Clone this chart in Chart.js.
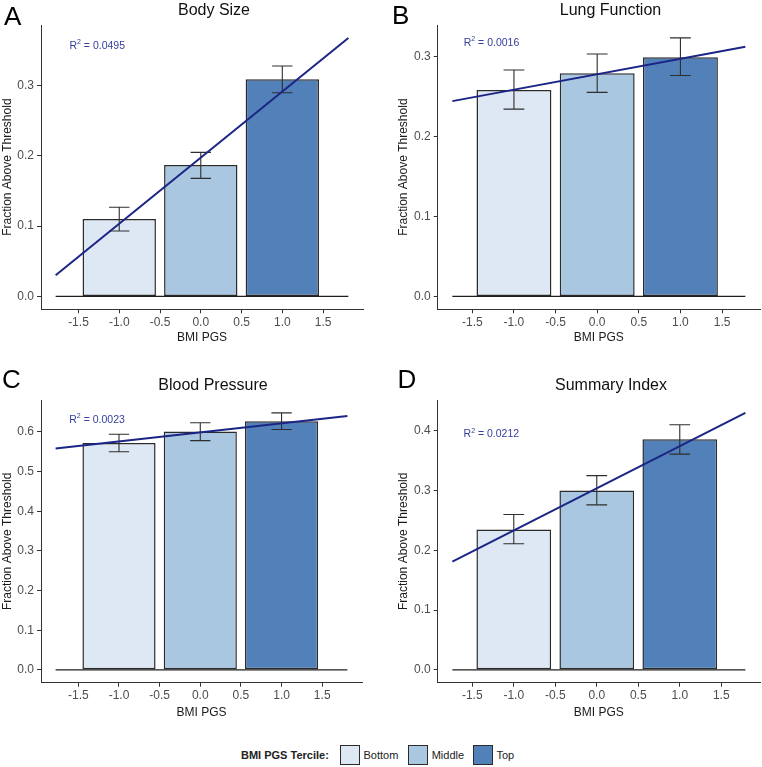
<!DOCTYPE html>
<html lang="en">
<head>
<meta charset="UTF-8">
<title>Fraction above threshold by BMI PGS tercile</title>
<script src="https://cdn.jsdelivr.net/npm/chart.js"></script>
<style>
    body { margin: 0; background: #fff; font-family: "Liberation Sans", Arial, sans-serif; }
    #fig { position: relative; width: 762px; height: 767px; overflow: hidden; }
    .panel { position: absolute; }
    .letter { position: absolute; font-size: 26px; line-height: 26px; color: #000; }
    .ptitle { position: absolute; font-size: 16px; line-height: 16px; color: #111; transform: translateX(-50%); white-space: nowrap; }
    .leg { position: absolute; font-size: 11px; line-height: 11px; color: #222; white-space: nowrap; }
    .swatch { position: absolute; width: 18px; height: 18px; border: 1px solid #2b2b2b; }
</style>
</head>
<body>
<div id="fig"></div>

<script>
    // shared x positions / labels
    const barX = [-1, 0, 1];
    const terciles = ['Bottom', 'Middle', 'Top'];
    const xTicks = [-1.5, -1.0, -0.5, 0.0, 0.5, 1.0, 1.5];

    // A - Body Size
    const bodyFrac = [0.110, 0.187, 0.309];
    const bodyLo = [0.093, 0.168, 0.290];
    const bodyHi = [0.127, 0.205, 0.328];
    const bodyFitX = [-1.78, 1.81];
    const bodyFitY = [0.030, 0.368];
    const bodyTicks = [0.0, 0.1, 0.2, 0.3];

    // B - Lung Function
    const lungFrac = [0.258, 0.279, 0.299];
    const lungLo = [0.234, 0.255, 0.276];
    const lungHi = [0.283, 0.303, 0.323];
    const lungFitX = [-1.74, 1.78];
    const lungFitY = [0.244, 0.312];
    const lungTicks = [0.0, 0.1, 0.2, 0.3];

    // C - Blood Pressure
    const bpFrac = [0.572, 0.601, 0.627];
    const bpLo = [0.550, 0.578, 0.606];
    const bpHi = [0.594, 0.623, 0.648];
    const bpFitX = [-1.78, 1.81];
    const bpFitY = [0.558, 0.640];
    const bpTicks = [0.0, 0.1, 0.2, 0.3, 0.4, 0.5, 0.6];

    // D - Summary Index
    const sumFrac = [0.235, 0.300, 0.386];
    const sumLo = [0.211, 0.276, 0.361];
    const sumHi = [0.260, 0.325, 0.410];
    const sumFitX = [-1.74, 1.79];
    const sumFitY = [0.181, 0.430];
    const sumTicks = [0.0, 0.1, 0.2, 0.3, 0.4];

    const r2Values = ['0.0495', '0.0016', '0.0023', '0.0212'];

    const fills = ['#dee7f4', '#a9c7e1', '#5281ba'];
    const fitColor = '#1b2585';
    const labelColor = '#36409c';
    const FONT = '"Liberation Sans", Arial, sans-serif';

    const panels = [
        { letter: 'A', title: 'Body Size', frac: bodyFrac, lo: bodyLo, hi: bodyHi, fitX: bodyFitX, fitY: bodyFitY, yTicks: bodyTicks, r2: r2Values[0],
          left: 0, top: 0, padL: 0, padR: 18, plotBottom: 309.3, labelY: 0.358, letterX: 4, letterY: 3, titleX: 214, titleY: 1.5 },
        { letter: 'B', title: 'Lung Function', frac: lungFrac, lo: lungLo, hi: lungHi, fitX: lungFitX, fitY: lungFitY, yTicks: lungTicks, r2: r2Values[1],
          left: 381, top: 0, padL: 15.7, padR: 2, plotBottom: 309.3, labelY: 0.318, letterX: 392, letterY: 2, titleX: 610.5, titleY: 1.5 },
        { letter: 'C', title: 'Blood Pressure', frac: bpFrac, lo: bpLo, hi: bpHi, fitX: bpFitX, fitY: bpFitY, yTicks: bpTicks, r2: r2Values[2],
          left: 0, top: 375, padL: 0, padR: 19, plotBottom: 307.7, labelY: 0.633, letterX: 2, letterY: 366.3, titleX: 213, titleY: 376.5 },
        { letter: 'D', title: 'Summary Index', frac: sumFrac, lo: sumLo, hi: sumHi, fitX: sumFitX, fitY: sumFitY, yTicks: sumTicks, r2: r2Values[3],
          left: 381, top: 375, padL: 15.7, padR: 2, plotBottom: 307.7, labelY: 0.396, letterX: 397.4, letterY: 366.3, titleX: 611, titleY: 376.5 }
    ];

    const W = 381, H = 350;

    // error bars, drawn right after the bars so the fit lines sit on top
    const errorBars = {
        id: 'errorBars',
        afterDatasetDraw(chart, args, opts) {
            if (args.index !== 0) return;
            const xs = chart.scales.x, ys = chart.scales.y, c = chart.ctx;
            const half = Math.abs(xs.getPixelForValue(opts.cap) - xs.getPixelForValue(0));
            c.save();
            c.strokeStyle = '#2e2e2e';
            c.lineWidth = 1.1;
            opts.x.forEach((xv, i) => {
                const px = xs.getPixelForValue(xv);
                const y1 = ys.getPixelForValue(opts.lo[i]);
                const y2 = ys.getPixelForValue(opts.hi[i]);
                c.beginPath();
                c.moveTo(px, y1); c.lineTo(px, y2);
                c.moveTo(px - half, y1); c.lineTo(px + half, y1);
                c.moveTo(px - half, y2); c.lineTo(px + half, y2);
                c.stroke();
            });
            c.restore();
        }
    };

    // "R² = ..." annotation at data coordinates
    const r2Label = {
        id: 'r2Label',
        afterDatasetsDraw(chart, args, opts) {
            const c = chart.ctx;
            const cx = chart.scales.x.getPixelForValue(opts.x);
            const cy = chart.scales.y.getPixelForValue(opts.y);
            const main = '10.5px ' + FONT, sup = '7px ' + FONT;
            const rest = ' = ' + opts.text;
            c.save();
            c.fillStyle = labelColor;
            c.textBaseline = 'alphabetic';
            c.font = main; const wR = c.measureText('R').width; const wRest = c.measureText(rest).width;
            c.font = sup; const w2 = c.measureText('2').width;
            let x = cx - (wR + w2 + wRest) / 2;
            const base = cy + 4;
            c.font = main; c.fillText('R', x, base); x += wR;
            c.font = sup; c.fillText('2', x, base - 4.5); x += w2;
            c.font = main; c.fillText(rest, x, base);
            c.restore();
        }
    };

    const fig = document.getElementById('fig');

    panels.forEach(p => {
        const cv = document.createElement('canvas');
        cv.width = W; cv.height = H;
        cv.className = 'panel';
        cv.style.left = p.left + 'px';
        cv.style.top = p.top + 'px';
        cv.style.width = W + 'px';
        cv.style.height = H + 'px';
        fig.appendChild(cv);

        const letter = document.createElement('div');
        letter.className = 'letter';
        letter.textContent = p.letter;
        letter.style.left = p.letterX + 'px';
        letter.style.top = p.letterY + 'px';
        fig.appendChild(letter);

        const title = document.createElement('div');
        title.className = 'ptitle';
        title.textContent = p.title;
        title.style.left = p.titleX + 'px';
        title.style.top = p.titleY + 'px';
        fig.appendChild(title);

        // ggplot-style 5% expansion around the data
        const xw = p.fitX[1] - p.fitX[0];
        const xMin = p.fitX[0] - 0.05 * xw, xMax = p.fitX[1] + 0.05 * xw;
        const yTop = Math.max(...p.hi, ...p.fitY);
        const yMin = -0.05 * yTop, yMax = 1.05 * yTop;

        new Chart(cv, {
            type: 'bar',
            data: {
                datasets: [
                    {
                        type: 'bar',
                        xAxisID: 'xb',
                        data: barX.map((x, i) => ({ x: x, y: p.frac[i] })),
                        backgroundColor: fills,
                        borderColor: '#2b2b2b',
                        borderWidth: 1.5,
                        borderSkipped: false,
                        grouped: false,
                        categoryPercentage: 0.9,
                        barPercentage: 1,
                        order: 3
                    },
                    {
                        type: 'line',
                        xAxisID: 'x',
                        data: p.fitX.map(x => ({ x: x, y: 0 })),
                        borderColor: '#1e1e1e',
                        borderWidth: 1.3,
                        pointRadius: 0,
                        order: 2
                    },
                    {
                        type: 'line',
                        xAxisID: 'x',
                        data: p.fitX.map((x, i) => ({ x: x, y: p.fitY[i] })),
                        borderColor: fitColor,
                        borderWidth: 2,
                        pointRadius: 0,
                        order: 1
                    }
                ]
            },
            options: {
                responsive: false,
                animation: false,
                layout: { padding: { left: p.padL, right: p.padR, top: 25, bottom: 0 } },
                plugins: {
                    legend: { display: false },
                    tooltip: { enabled: false },
                    errorBars: { x: barX, lo: p.lo, hi: p.hi, cap: 0.125 },
                    r2Label: { x: -1.27, y: p.labelY, text: p.r2 }
                },
                scales: {
                    x: {
                        type: 'linear',
                        position: 'bottom',
                        min: xMin, max: xMax,
                        offset: false,
                        afterBuildTicks: s => { s.ticks = xTicks.map(v => ({ value: v })); },
                        afterFit: s => { s.height = H - p.plotBottom; },
                        grid: { display: true, drawOnChartArea: false, drawTicks: true, tickLength: 4, tickColor: '#333', offset: false },
                        border: { display: true, color: '#333', width: 1 },
                        ticks: {
                            autoSkip: false, maxRotation: 0, padding: 2,
                            color: '#4d4d4d', font: { family: FONT, size: 12 },
                            callback: v => Number(v).toFixed(1)
                        },
                        title: { display: true, text: 'BMI PGS', color: '#1a1a1a', font: { family: FONT, size: 12 }, padding: { top: 0, bottom: 5 } }
                    },
                    xb: {
                        type: 'linear',
                        display: false,
                        min: xMin, max: xMax,
                        offset: false,
                        grid: { offset: false },
                        afterBuildTicks: s => { s.ticks = barX.map(v => ({ value: v })); }
                    },
                    y: {
                        type: 'linear',
                        min: yMin, max: yMax,
                        afterBuildTicks: s => { s.ticks = p.yTicks.map(v => ({ value: v })); },
                        afterFit: s => { s.width = 41; },
                        grid: { display: true, drawOnChartArea: false, drawTicks: true, tickLength: 4, tickColor: '#333' },
                        border: { display: true, color: '#333', width: 1 },
                        ticks: {
                            padding: 3,
                            color: '#4d4d4d', font: { family: FONT, size: 12 },
                            callback: v => Number(v).toFixed(1)
                        },
                        title: { display: true, text: 'Fraction Above Threshold', color: '#1a1a1a', font: { family: FONT, size: 12 }, padding: 0 }
                    }
                }
            },
            plugins: [errorBars, r2Label]
        });
    });

    // shared legend at the bottom
    function addLeg(cls, text, left, top, extra) {
        const el = document.createElement('div');
        el.className = cls;
        if (text) el.textContent = text;
        el.style.left = left + 'px';
        el.style.top = top + 'px';
        if (extra) Object.assign(el.style, extra);
        fig.appendChild(el);
    }
    addLeg('leg', 'BMI PGS Tercile:', 241, 749.5, { fontWeight: 'bold' });
    const swatchX = [340, 408, 473.3];
    const labelX = [363.5, 431.7, 496.5];
    terciles.forEach((t, i) => {
        addLeg('swatch', '', swatchX[i], 745, { background: fills[i] });
        addLeg('leg', t, labelX[i], 749.5);
    });
</script>
</body>
</html>
